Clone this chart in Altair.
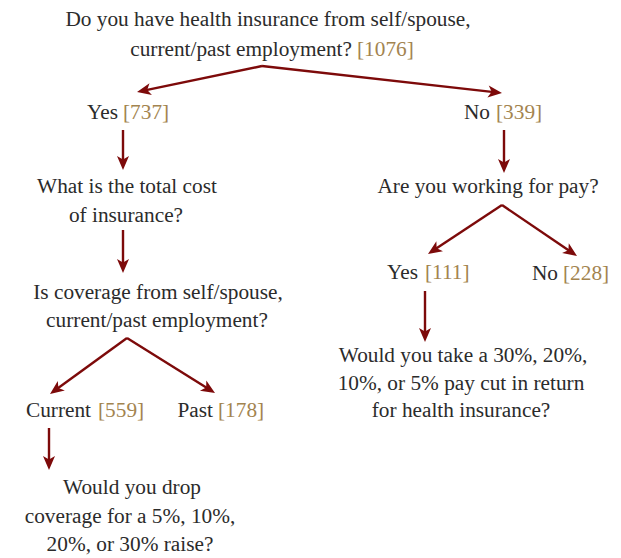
import math
import altair as alt
import pandas as pd

# ---- text pieces of the flowchart ----
seg_text = [
    "Do you have health insurance from self/spouse,",
    "current/past employment?", "[1076]",
    "Yes", "[737]",
    "No", "[339]",
    "What is the total cost", "of insurance?",
    "Is coverage from self/spouse,", "current/past employment?",
    "Current", "[559]", "Past", "[178]",
    "Would you drop", "coverage for a 5%, 10%,", "20%, or 30% raise?",
    "Are you working for pay?",
    "Yes", "[111]", "No", "[228]",
    "Would you take a 30%, 20%,", "10%, or 5% pay cut in return", "for health insurance?",
]
seg_x = [268, 352, 357, 118, 123, 490, 496, 127, 126, 158, 157,
         91, 98, 213, 218, 132, 130, 130, 488, 418, 425, 558, 563, 463, 461, 461]
seg_y = [20, 50, 50, 113, 113, 113, 113, 187, 216, 293, 321,
         411, 411, 411, 411, 488, 517, 545, 187, 273, 273, 274, 274, 356, 384, 411]
seg_align = ["center", "right", "left", "right", "left", "right", "left", "center", "center",
             "center", "center", "right", "left", "right", "left", "center", "center", "center",
             "center", "right", "left", "right", "left", "center", "center", "center"]
seg_role = ["question", "question", "count", "question", "count", "question", "count",
            "question", "question", "question", "question", "question", "count", "question",
            "count", "question", "question", "question", "question", "question", "count",
            "question", "count", "question", "question", "question"]

# ---- arrows (start -> tip) ----
arrow_x1 = [262, 262, 123, 123, 127, 127, 49, 504, 502, 502, 425]
arrow_y1 = [66, 66, 130, 230, 338, 338, 428, 130, 205, 205, 291]
arrow_x2 = [137, 502, 123, 123, 50, 215, 49, 504, 428, 577, 425]
arrow_y2 = [92, 93, 170, 273, 394, 393, 470, 173, 254, 256, 342]

DARK = "#2b2b2b"
GOLD = "#a3844f"
RED = "#7d0a0a"
FONT = "Liberation Serif"

texts = pd.DataFrame({"text": seg_text, "x": seg_x, "y": seg_y,
                      "align": seg_align, "role": seg_role})

rows = []
for x1, y1, x2, y2 in zip(arrow_x1, arrow_y1, arrow_x2, arrow_y2):
    dx, dy = x2 - x1, y2 - y1
    L = math.hypot(dx, dy)
    ux, uy = dx / L, dy / L
    ang = math.degrees(math.atan2(dx, -dy)) % 360
    rows.append({"x1": x1, "y1": y1, "x2": x2, "y2": y2,
                 "xe": x2 - ux * 8, "ye": y2 - uy * 8, "angle": ang})
arrows = pd.DataFrame(rows)

W, H = 605, 548
xs = alt.Scale(domain=[8, 8 + W])
ys = alt.Scale(domain=[8, 8 + H], reverse=True)

lines = alt.Chart(arrows).mark_rule(color=RED, strokeWidth=2.4).encode(
    x=alt.X("x1:Q", scale=xs, axis=None),
    y=alt.Y("y1:Q", scale=ys, axis=None),
    x2="xe:Q", y2="ye:Q",
)

head_path = "M0,0L0.75,1.75L0,1.3L-0.75,1.75Z"
heads = alt.Chart(arrows).mark_point(
    shape=head_path, filled=True, color=RED, opacity=1, size=256, strokeWidth=0
).encode(
    x=alt.X("x2:Q", scale=xs, axis=None),
    y=alt.Y("y2:Q", scale=ys, axis=None),
    angle=alt.Angle("angle:Q", scale=None),
)

def text_layer(align):
    return alt.Chart(texts).transform_filter(
        alt.datum.align == align
    ).mark_text(font=FONT, fontSize=21.3, align=align, baseline="middle").encode(
        x=alt.X("x:Q", scale=xs, axis=None),
        y=alt.Y("y:Q", scale=ys, axis=None),
        text="text:N",
        color=alt.Color("role:N", scale=alt.Scale(domain=["question", "count"],
                                                  range=[DARK, GOLD]), legend=None),
    )

chart = alt.layer(lines, heads, text_layer("center"), text_layer("left"),
                  text_layer("right")).properties(
    width=W, height=H, padding=0, autosize=alt.AutoSizeParams(type="none")
).configure_view(stroke=None)

chart.save("out.html", embed_options={"renderer": "svg", "actions": False})
